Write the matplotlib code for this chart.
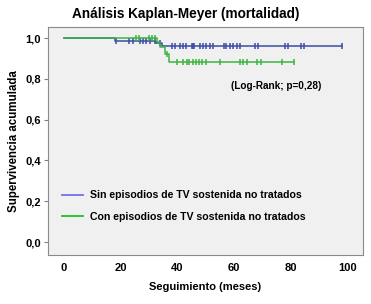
import numpy as np
import matplotlib
matplotlib.use('Agg')
import matplotlib.pyplot as plt

plt.rcParams['font.family'] = ['Liberation Sans', 'DejaVu Sans']

# Kaplan-Meier steps (time in months, cumulative survival)
blue_t = [0, 18, 32.5, 34.5, 98]
blue_s = [1.0, 0.987, 0.975, 0.962, 0.962]
blue_cens = [18.5, 23, 24.5, 27, 28, 29, 30.5, 32, 34, 38, 39, 41, 42, 43, 45, 45.5,
             46, 48, 49, 50, 51.5, 52.5, 56.5, 57, 58.5, 59.5, 61, 62, 67.5, 68.5,
             78, 79, 83.5, 84.5, 98]

green_t = [0, 33, 34, 35.5, 37, 81]
green_s = [1.0, 0.98, 0.955, 0.92, 0.885, 0.885]
green_cens = [25.5, 26.5, 30, 31, 32, 36.5, 40, 42, 43.5, 44, 45.5, 46.5, 47.5, 48.5,
              50, 55, 62, 63, 64.5, 68, 69.5, 77, 81]

labels = ['Sin episodios de TV sostenida no tratados',
          'Con episodios de TV sostenida no tratados']
line_colors = ['#3d4ca6', '#3cb440']
legend_colors = ['#7070f0', '#22c022']


def surv_at(t, times, surv):
    idx = np.searchsorted(times, t, side='right') - 1
    return np.array(surv)[idx]


fig = plt.figure(figsize=(3.71, 3.04), dpi=100)
ax = fig.add_axes([0.129, 0.161, 0.849, 0.75])
ax.set_facecolor('#f0f0f0')

for t, s, c, col in [(blue_t, blue_s, blue_cens, line_colors[0]),
                     (green_t, green_s, green_cens, line_colors[1])]:
    ax.plot(t, s, drawstyle='steps-post', color=col, lw=1.1)
    ax.plot(c, surv_at(c, t, s), ls='none', marker='|', ms=5, mew=1.1, color=col)

h1, = ax.plot([], [], color=legend_colors[0], lw=1.3)
h2, = ax.plot([], [], color=legend_colors[1], lw=1.3)
leg = ax.legend([h1, h2], labels, loc='upper left', bbox_to_anchor=(0.015, 0.325),
                frameon=False, handlelength=2.0, handletextpad=0.6, labelspacing=1.05,
                prop={'size': 7.6, 'weight': 'bold'})

ax.text(0.868, 0.74, '(Log-Rank; p=0,28)', transform=ax.transAxes, ha='right',
        va='center', fontsize=7.2, fontweight='bold')

ax.set_xlim(-5.6, 105.3)
ax.set_ylim(-0.064, 1.054)
ax.set_xticks([0, 20, 40, 60, 80, 100])
ax.set_yticks([0, 0.2, 0.4, 0.6, 0.8, 1.0])
ax.set_yticklabels(['0,0', '0,2', '0,4', '0,6', '0,8', '1,0'])
ax.tick_params(axis='both', labelsize=8, length=3, color='#808080', pad=2)
for lab in ax.get_xticklabels() + ax.get_yticklabels():
    lab.set_fontweight('bold')
ax.tick_params(axis='x', length=0, pad=6)
for sp in ax.spines.values():
    sp.set_color('#8a8a8a')

ax.set_xlabel('Seguimiento (meses)', fontsize=8, fontweight='bold', labelpad=6)
ax.set_ylabel('Supervivencia acumulada', fontsize=8.3, fontweight='bold', labelpad=4)
fig.suptitle('Análisis Kaplan-Meyer (mortalidad)', fontsize=9.8, fontweight='bold',
             y=0.978)

fig.savefig('out.png', dpi=100)
